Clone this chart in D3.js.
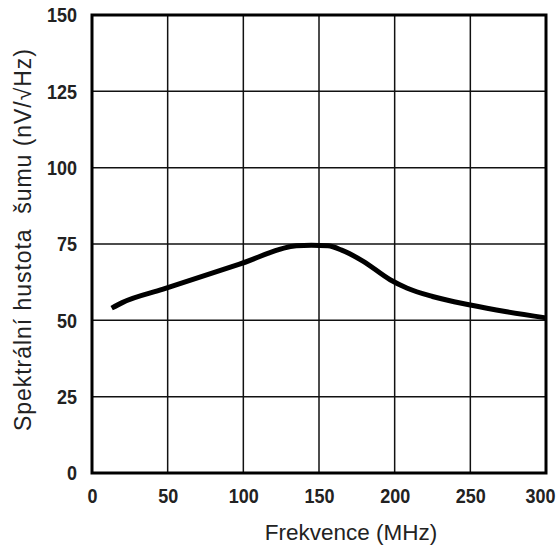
<!DOCTYPE html>
<html>
<head>
<meta charset="utf-8">
<script src="https://cdn.jsdelivr.net/npm/d3@7"></script>
<style>
  body { margin: 0; background: #fff; }
  svg text { font-family: "Liberation Sans", Arial, sans-serif; }
  .tick text { font-family: "Liberation Sans", Arial, sans-serif; font-weight: bold; font-size: 21px; fill: #222; }
</style>
</head>
<body>
<div id="chart"></div>
<script>
// frequency (MHz) vs. noise spectral density (nV/sqrt(Hz))
const freq = [13, 20, 47, 97, 135, 145, 156, 165, 179, 197, 208, 225, 250, 274, 300];
const noise = [54, 55.8, 60.2, 68.3, 74.4, 74.6, 74.4, 73, 69.4, 63.3, 60.6, 57.8, 55, 52.8, 50.8];
const xTicks = [0, 50, 100, 150, 200, 250, 300];
const yTicks = [0, 25, 50, 75, 100, 125, 150];

const width = 560, height = 548;
const margin = { top: 15, right: 14, bottom: 75, left: 92 };

const svg = d3.select('#chart')
    .append('svg')
    .attr('width', width)
    .attr('height', height);

const x = d3.scaleLinear().domain([0, 300]).range([margin.left, width - margin.right]);
const y = d3.scaleLinear().domain([0, 150]).range([height - margin.bottom, margin.top]);

// grid
svg.append('g')
    .selectAll('line')
    .data(xTicks)
    .enter()
    .append('line')
    .attr('x1', d => x(d)).attr('x2', d => x(d))
    .attr('y1', y(0)).attr('y2', y(150))
    .attr('stroke', '#111').attr('stroke-width', 1.5);

svg.append('g')
    .selectAll('line')
    .data(yTicks)
    .enter()
    .append('line')
    .attr('x1', x(0)).attr('x2', x(300))
    .attr('y1', d => y(d)).attr('y2', d => y(d))
    .attr('stroke', '#111').attr('stroke-width', 1.5);

// condensed look for the bold tick numbers
function narrow(sel) {
    sel.selectAll('.tick text')
        .attr('textLength', function () { return this.textContent.length * 10; })
        .attr('lengthAdjust', 'spacingAndGlyphs');
}

// axes (labels only)
const xAxis = svg.append('g')
    .attr('transform', `translate(0,${y(0)})`)
    .call(d3.axisBottom(x).tickValues(xTicks).tickSize(0).tickPadding(15));
xAxis.select('.domain').remove();
narrow(xAxis);
xAxis.selectAll('.tick text').filter(d => d === 300).attr('x', -6);

const yAxis = svg.append('g')
    .attr('transform', `translate(${x(0)},0)`)
    .call(d3.axisLeft(y).tickValues(yTicks).tickSize(0).tickPadding(15));
yAxis.select('.domain').remove();
narrow(yAxis);

// frame
svg.append('rect')
    .attr('x', x(0)).attr('y', y(150))
    .attr('width', x(300) - x(0)).attr('height', y(0) - y(150))
    .attr('fill', 'none').attr('stroke', '#000').attr('stroke-width', 3);

// curve
const line = d3.line()
    .x((d, i) => x(freq[i]))
    .y(d => y(d))
    .curve(d3.curveMonotoneX);

svg.append('path')
    .datum(noise)
    .attr('d', line)
    .attr('fill', 'none')
    .attr('stroke', '#000')
    .attr('stroke-width', 5)
    .attr('stroke-linejoin', 'round');

// titles
svg.append('text')
    .attr('x', 351).attr('y', 540)
    .attr('text-anchor', 'middle')
    .attr('font-size', 22.5)
    .attr('fill', '#222')
    .text('Frekvence (MHz)');

svg.append('text')
    .attr('transform', 'translate(31,240) rotate(-90)')
    .attr('text-anchor', 'middle')
    .attr('font-size', 23)
    .attr('fill', '#222')
    .attr('textLength', 382)
    .attr('lengthAdjust', 'spacing')
    .style('white-space', 'pre')
    .text('Spektrální hustota  šumu (nV/√Hz)');
</script>
</body>
</html>
